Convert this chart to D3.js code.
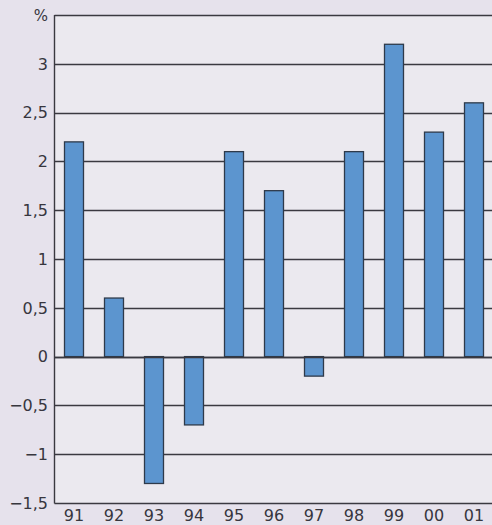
<!DOCTYPE html>
<html>
<head>
<meta charset="utf-8">
<script src="https://cdn.jsdelivr.net/npm/d3@7"></script>
<style>
  html, body { margin: 0; padding: 0; background: #e6e2ec; }
  svg { display: block; }
</style>
</head>
<body>
<svg id="chart" width="492" height="525"></svg>
<script>
// Annual change, per cent
const years = ["91", "92", "93", "94", "95", "96", "97", "98", "99", "00", "01"];
const values = [2.2, 0.6, -1.3, -0.7, 2.1, 1.7, -0.2, 2.1, 3.2, 2.3, 2.6];
const yTicks = [-1.5, -1, -0.5, 0, 0.5, 1, 1.5, 2, 2.5, 3];
const gridTicks = [-1.5, -1, -0.5, 0, 0.5, 1, 1.5, 2, 2.5, 3, 3.5];
const unitLabel = "%";

const svg = d3.select("#chart");
const W = 492, H = 525;
const plotLeft = 54.5, plotTop = 15, plotBottom = 503;

// plot background, a touch lighter than the page
svg.append("rect")
  .attr("x", plotLeft).attr("y", plotTop)
  .attr("width", W - plotLeft).attr("height", plotBottom - plotTop)
  .attr("fill", "#ebe9ef");

const x = d3.scaleBand()
  .domain(years)
  .range([54, 494])
  .paddingInner(0.5)
  .paddingOuter(0.25);

const y = d3.scaleLinear()
  .domain([-1.5, 3.5])
  .range([plotBottom, plotTop]);

const fmt = v => String(v).replace(".", ",").replace("-", "\u2212");

// horizontal grid lines
svg.append("g")
  .selectAll("line")
  .data(gridTicks)
  .join("line")
  .attr("x1", plotLeft).attr("x2", W)
  .attr("y1", d => Math.round(y(d)) + 0.5)
  .attr("y2", d => Math.round(y(d)) + 0.5)
  .attr("stroke", "#3a3940")
  .attr("stroke-width", 1.4);

// bars
svg.append("g")
  .selectAll("rect")
  .data(years.map((k, i) => ({ k, v: values[i] })))
  .join("rect")
  .attr("x", d => x(d.k) + 0.5)
  .attr("width", x.bandwidth() - 1)
  .attr("y", d => y(Math.max(0, d.v)))
  .attr("height", d => Math.abs(y(d.v) - y(0)))
  .attr("fill", "#5c95cf")
  .attr("stroke", "#2e3a4a")
  .attr("stroke-width", 1.3);

// zero line over bar bases
svg.append("line")
  .attr("x1", plotLeft).attr("x2", W)
  .attr("y1", Math.round(y(0)) + 0.5).attr("y2", Math.round(y(0)) + 0.5)
  .attr("stroke", "#3a3940").attr("stroke-width", 1.4);

// left axis line
svg.append("line")
  .attr("x1", plotLeft).attr("x2", plotLeft)
  .attr("y1", plotTop).attr("y2", plotBottom + 0.5)
  .attr("stroke", "#3a3940").attr("stroke-width", 1.4);

const font = "'DejaVu Sans', Verdana, sans-serif";

// y tick labels
svg.append("g")
  .selectAll("text")
  .data(yTicks)
  .join("text")
  .attr("x", 48)
  .attr("y", d => y(d))
  .attr("dy", "0.36em")
  .attr("text-anchor", "end")
  .attr("font-family", font)
  .attr("font-size", 16)
  .attr("fill", "#37363e")
  .text(fmt);

// unit label
svg.append("text")
  .attr("x", 48).attr("y", 16)
  .attr("dy", "0.36em")
  .attr("text-anchor", "end")
  .attr("font-family", font)
  .attr("font-size", 15)
  .attr("fill", "#37363e")
  .text(unitLabel);

// x labels
svg.append("g")
  .selectAll("text")
  .data(years)
  .join("text")
  .attr("x", d => x(d) + x.bandwidth() / 2)
  .attr("y", 520.5)
  .attr("text-anchor", "middle")
  .attr("font-family", font)
  .attr("font-size", 16)
  .attr("fill", "#37363e")
  .text(d => d);
</script>
</body>
</html>
